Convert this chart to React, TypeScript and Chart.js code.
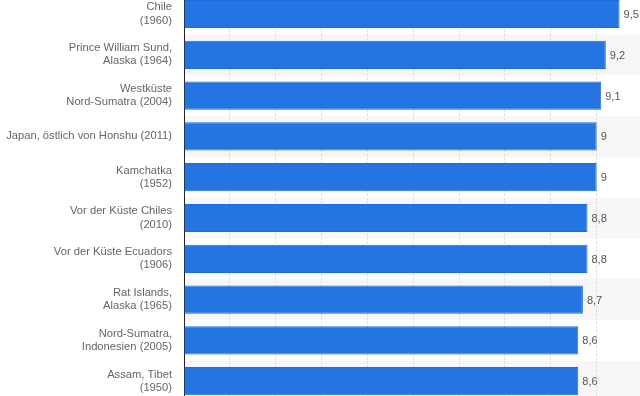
import React, { useEffect, useRef } from "react";
import { Chart, registerables } from "chart.js";

Chart.register(...registerables);

const categories: string[][] = [
  ["Chile", "(1960)"],
  ["Prince William Sund,", "Alaska (1964)"],
  ["Westküste", "Nord-Sumatra (2004)"],
  ["Japan, östlich von Honshu (2011)"],
  ["Kamchatka", "(1952)"],
  ["Vor der Küste Chiles", "(2010)"],
  ["Vor der Küste Ecuadors", "(1906)"],
  ["Rat Islands,", "Alaska (1965)"],
  ["Nord-Sumatra,", "Indonesien (2005)"],
  ["Assam, Tibet", "(1950)"],
];

const magnitudes: number[] = [9.5, 9.2, 9.1, 9.0, 9.0, 8.8, 8.8, 8.7, 8.6, 8.6];

const FONT = "'Liberation Sans', Arial, sans-serif";

const bandsPlugin = {
  id: "bands",
  beforeDraw(chart: any) {
    const { ctx, chartArea, scales } = chart;
    const y = scales.y;
    const n = categories.length;
    const half = (chartArea.bottom - chartArea.top) / n / 2;
    ctx.save();
    ctx.fillStyle = "#f7f7f7";
    for (let i = 1; i < n; i += 2) {
      const c = y.getPixelForValue(i);
      ctx.fillRect(chartArea.left, c - half, chart.width - chartArea.left, half * 2);
    }
    ctx.restore();
  },
};

const valueLabelPlugin = {
  id: "valueLabels",
  afterDatasetsDraw(chart: any) {
    const { ctx } = chart;
    const meta = chart.getDatasetMeta(0);
    ctx.save();
    ctx.font = `11px ${FONT}`;
    ctx.fillStyle = "#555555";
    ctx.textAlign = "left";
    ctx.textBaseline = "middle";
    meta.data.forEach((bar: any, i: number) => {
      const v = magnitudes[i];
      const txt = String(v).replace(".", ",");
      ctx.fillText(txt, bar.x + 4, bar.y + 1);
    });
    ctx.restore();
  },
};

export default function App() {
  const ref = useRef<HTMLCanvasElement | null>(null);
  useEffect(() => {
    if (!ref.current) return;
    const chart = new Chart(ref.current, {
      type: "bar",
      data: {
        labels: categories as any,
        datasets: [
          {
            data: magnitudes,
            backgroundColor: "#2474e1",
            borderColor: "#1b6de6",
            borderWidth: 1,
            barPercentage: 0.69,
            categoryPercentage: 1,
          },
        ],
      },
      options: {
        indexAxis: "y",
        responsive: false,
        animation: false,
        devicePixelRatio: 1,
        layout: { padding: { top: 13.6, bottom: 18.4, left: 0, right: 57.5 } },
        plugins: {
          legend: { display: false },
          tooltip: { enabled: false },
        },
        scales: {
          x: {
            min: 0,
            max: 10,
            position: "bottom",
            ticks: { display: false, stepSize: 1 },
            grid: {
              color: "#d6d6d6",
              lineWidth: 1,
              drawTicks: false,
            },
            border: { display: false, dash: [2, 2] },
            afterFit(scale: any) {
              scale.height = 0;
              scale.paddingLeft = 0;
              scale.paddingRight = 0;
            },
          },
          y: {
            position: "left",
            grid: { display: false, drawTicks: false },
            border: { display: true, color: "#222222", width: 1 },
            ticks: {
              padding: 12,
              color: "#666666",
              font: { family: FONT, size: 11.2, lineHeight: 1.18 },
              autoSkip: false,
            },
            afterFit(scale: any) {
              scale.width = 184;
              scale.paddingTop = 0;
              scale.paddingBottom = 0;
            },
          },
        },
      },
      plugins: [bandsPlugin, valueLabelPlugin],
    });
    return () => chart.destroy();
  }, []);
  return (
    <div style={{ position: "fixed", left: 0, top: 0, width: 640, height: 396, overflow: "hidden", background: "#fff" }}>
      <canvas
        ref={ref}
        width={700}
        height={440}
        style={{ position: "absolute", left: 0, top: -20, width: 700, height: 440 }}
      />
    </div>
  );
}
